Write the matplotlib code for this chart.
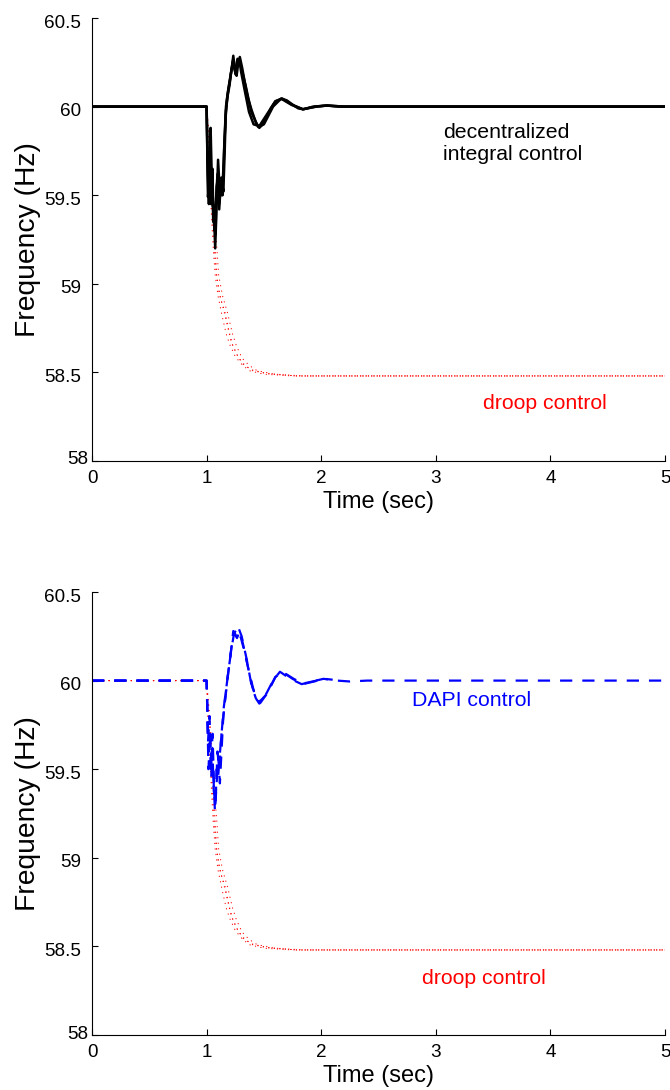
import matplotlib
matplotlib.use("Agg")
import matplotlib.pyplot as plt
from matplotlib.transforms import ScaledTranslation

plt.rcParams['font.family'] = ['Liberation Sans', 'DejaVu Sans']

# ---------------- data ----------------
# Top panel: decentralized integral control (several generator traces)
t_int_a = [0, 1.0, 1.012, 1.025, 1.035, 1.045, 1.053, 1.063, 1.075, 1.09, 1.1, 1.117, 1.13,
           1.146, 1.158, 1.169, 1.185, 1.204, 1.22, 1.233, 1.248, 1.262, 1.275, 1.29, 1.31,
           1.335, 1.36, 1.393, 1.43, 1.46, 1.49, 1.524, 1.56, 1.6, 1.655, 1.70, 1.757, 1.80,
           1.844, 1.93, 2.048, 2.15, 2.3, 5]
f_int_a = [60, 60, 59.49, 59.6, 59.88, 59.6, 59.44, 59.42, 59.2, 59.5, 59.7, 59.49, 59.6,
           59.52, 59.75, 60.0, 60.08, 60.15, 60.22, 60.287, 60.2, 60.174, 60.24, 60.28, 60.22,
           60.13, 60.05, 59.98, 59.91, 59.88, 59.9, 59.94, 59.99, 60.03, 60.045, 60.035, 60.008,
           59.99, 59.985, 60.0, 60.006, 60.0, 60.0, 60.0]
t_int_b = [0, 1.0, 1.008, 1.02, 1.03, 1.042, 1.05, 1.06, 1.07, 1.08, 1.095, 1.108, 1.12, 1.135,
           1.15, 1.165, 1.18, 1.2, 1.215, 1.23, 1.242, 1.255, 1.268, 1.285, 1.3, 1.33, 1.37,
           1.41, 1.46, 1.52, 1.6, 1.66, 1.75, 1.84, 1.95, 2.05, 2.2, 5]
f_int_b = [60, 60, 59.7, 59.45, 59.75, 59.5, 59.65, 59.38, 59.3, 59.45, 59.62, 59.45, 59.55,
           59.5, 59.7, 59.95, 60.05, 60.12, 60.2, 60.26, 60.22, 60.18, 60.26, 60.27, 60.2, 60.1,
           59.97, 59.9, 59.89, 59.95, 60.03, 60.045, 60.01, 59.985, 60.0, 60.006, 60.0, 60.0]
t_int_c = [0, 1.0, 1.005, 1.015, 1.028, 1.038, 1.048, 1.058, 1.068, 1.078, 1.088, 1.1, 1.11,
           1.125, 1.14, 1.155, 1.17, 1.19, 1.21, 1.23, 1.25, 1.27, 1.29, 1.31, 1.34, 1.39, 1.45,
           1.5, 1.58, 1.65, 1.74, 1.84, 1.96, 2.05, 2.2, 5]
f_int_c = [60, 60, 59.85, 59.5, 59.7, 59.45, 59.6, 59.35, 59.42, 59.28, 59.55, 59.6, 59.42,
           59.58, 59.5, 59.8, 59.98, 60.1, 60.18, 60.25, 60.2, 60.27, 60.25, 60.2, 60.12, 59.97,
           59.885, 59.9, 60.0, 60.045, 60.01, 59.985, 60.0, 60.006, 60.0, 60.0]

# Droop control (several generator traces), same in both panels
t_drp_a = [0, 1.0, 1.02, 1.04, 1.06, 1.075, 1.09, 1.12, 1.16, 1.2, 1.23, 1.28, 1.335, 1.4,
           1.55, 1.8, 5]
f_drp_a = [60, 60, 59.8, 59.6, 59.38, 59.2, 59.03, 58.92, 58.84, 58.72, 58.65, 58.58, 58.54,
           58.51, 58.49, 58.48, 58.48]
t_drp_b = [0, 1.0, 1.015, 1.03, 1.045, 1.06, 1.075, 1.1, 1.135, 1.17, 1.2, 1.25, 1.3, 1.37,
           1.5, 1.75, 5]
f_drp_b = [60, 60, 59.75, 59.55, 59.35, 59.18, 59.05, 58.93, 58.82, 58.72, 58.66, 58.59, 58.55,
           58.51, 58.49, 58.48, 58.48]
t_drp_c = [0, 1.0, 1.025, 1.05, 1.07, 1.09, 1.105, 1.14, 1.185, 1.225, 1.26, 1.31, 1.37, 1.44,
           1.6, 1.85, 5]
f_drp_c = [60, 60, 59.82, 59.58, 59.36, 59.2, 59.05, 58.93, 58.83, 58.72, 58.65, 58.58, 58.54,
           58.51, 58.49, 58.48, 58.48]
t_drp_d = [0, 1.0, 1.018, 1.035, 1.055, 1.07, 1.085, 1.11, 1.15, 1.19, 1.215, 1.265, 1.32,
           1.39, 1.52, 1.78, 5]
f_drp_d = [60, 60, 59.7, 59.52, 59.33, 59.17, 59.06, 58.95, 58.85, 58.74, 58.67, 58.6, 58.545,
           58.515, 58.495, 58.48, 58.48]

# Bottom panel: DAPI control (several generator traces)
t_dapi_a = [0, 1.0, 1.01, 1.02, 1.03, 1.045, 1.06, 1.073, 1.09, 1.102, 1.116, 1.146, 1.175,
            1.204, 1.233, 1.255, 1.277, 1.306, 1.35, 1.393, 1.43, 1.46, 1.49, 1.524, 1.58, 1.64,
            1.73, 1.83, 1.92, 2.02, 2.14, 2.25, 2.4, 5]
f_dapi_a = [60, 60, 59.75, 59.6, 59.7, 59.5, 59.45, 59.26, 59.45, 59.57, 59.42, 59.8, 59.98,
            60.12, 60.28, 60.25, 60.3, 60.25, 60.12, 59.97, 59.9, 59.87, 59.89, 59.93, 60.0,
            60.05, 60.01, 59.98, 59.995, 60.01, 60.0, 59.995, 60.0, 60.0]
t_dapi_b = [0, 1.0, 1.012, 1.025, 1.04, 1.052, 1.065, 1.08, 1.095, 1.11, 1.13, 1.16, 1.19,
            1.22, 1.245, 1.265, 1.29, 1.32, 1.37, 1.42, 1.47, 1.53, 1.6, 1.66, 1.75, 1.84,
            1.95, 2.03, 2.1]
f_dapi_b = [60, 60, 59.65, 59.8, 59.55, 59.7, 59.4, 59.35, 59.6, 59.5, 59.7, 59.88, 60.05,
            60.2, 60.27, 60.24, 60.28, 60.2, 60.05, 59.92, 59.875, 59.93, 60.02, 60.05, 60.01,
            59.98, 59.997, 60.01, 60.005]
t_dapi_c = [0, 1.0, 1.006, 1.016, 1.028, 1.04, 1.05, 1.062, 1.078, 1.088, 1.1, 1.12, 1.15,
            1.18, 1.21, 1.24, 1.27, 1.3, 1.34, 1.4, 1.46, 1.52, 1.6, 1.66, 1.76, 1.84, 1.96,
            2.05]
f_dapi_c = [60, 60, 59.85, 59.5, 59.65, 59.45, 59.62, 59.38, 59.3, 59.5, 59.45, 59.62, 59.85,
            60.0, 60.15, 60.27, 60.29, 60.24, 60.14, 59.96, 59.88, 59.92, 60.02, 60.05, 60.01,
            59.983, 60.0, 60.008]

x_ticks = [0, 1, 2, 3, 4, 5]
y_ticks = [58, 58.5, 59, 59.5, 60, 60.5]
y_tick_labels = ['58', '58.5', '59', '59.5', '60', '60.5']

# ---------------- figure ----------------
fig = plt.figure(figsize=(6.7, 10.9), dpi=100)
W, H = 670, 1090
ax1 = fig.add_axes([92 / W, 1 - 461 / H, 573 / W, 443 / H])
ax2 = fig.add_axes([92 / W, 1 - 1035 / H, 573 / W, 443 / H])

red_style = dict(color='#ff0000', lw=0.7, linestyle=(0, (1.2, 4.5)))
red_sets = [(t_drp_a, f_drp_a), (t_drp_b, f_drp_b), (t_drp_c, f_drp_c), (t_drp_d, f_drp_d)]

# top panel
for t, f in red_sets:
    ax1.plot(t, f, **red_style)
for t, f in [(t_int_a, f_int_a), (t_int_b, f_int_b), (t_int_c, f_int_c)]:
    ax1.plot(t, f, color='black', lw=1.8)

# bottom panel
for t, f in red_sets:
    ax2.plot(t, f, **red_style)
for t, f in [(t_dapi_a, f_dapi_a), (t_dapi_b, f_dapi_b), (t_dapi_c, f_dapi_c)]:
    ax2.plot(t, f, color='#0000ff', lw=1.6, linestyle=(0, (5.5, 4.5)))

for ax in (ax1, ax2):
    ax.set_xlim(0, 5)
    ax.set_ylim(58, 60.5)
    ax.set_xticks(x_ticks)
    ax.set_yticks(y_ticks)
    ax.set_yticklabels(y_tick_labels)
    ax.spines['top'].set_visible(False)
    ax.spines['right'].set_visible(False)
    ax.spines['left'].set_linewidth(0.8)
    ax.spines['bottom'].set_linewidth(0.8)
    ax.tick_params(direction='in', length=4.3, width=0.8, labelsize=13.6)
    ax.tick_params(axis='y', pad=8)
    ax.tick_params(axis='x', pad=6.5)
    ax.set_xlabel('Time (sec)', fontsize=17, labelpad=3)
    ax.set_ylabel('Frequency (Hz)', fontsize=20.3, labelpad=2)
    # MATLAB-like placement of y tick labels (slightly below the tick; lowest one shifted)
    for lab in ax.get_yticklabels():
        if lab.get_text() == '58':
            lab.set_transform(lab.get_transform() +
                              ScaledTranslation(7 / 100, 3 / 100, fig.dpi_scale_trans))
        else:
            lab.set_transform(lab.get_transform() +
                              ScaledTranslation(0, -3 / 100, fig.dpi_scale_trans))

ax1.text(3.063, 59.697, 'decentralized\nintegral control', fontsize=15.3, color='black',
         ha='left', va='baseline', linespacing=1.2)
ax1.text(3.41, 58.292, 'droop control', fontsize=15.3, color='#ff0000', ha='left', va='baseline')
ax2.text(2.79, 59.854, 'DAPI control', fontsize=15.3, color='#0000ff', ha='left', va='baseline')
ax2.text(2.877, 58.286, 'droop control', fontsize=15.3, color='#ff0000', ha='left', va='baseline')

fig.savefig('out.png', dpi=100)
